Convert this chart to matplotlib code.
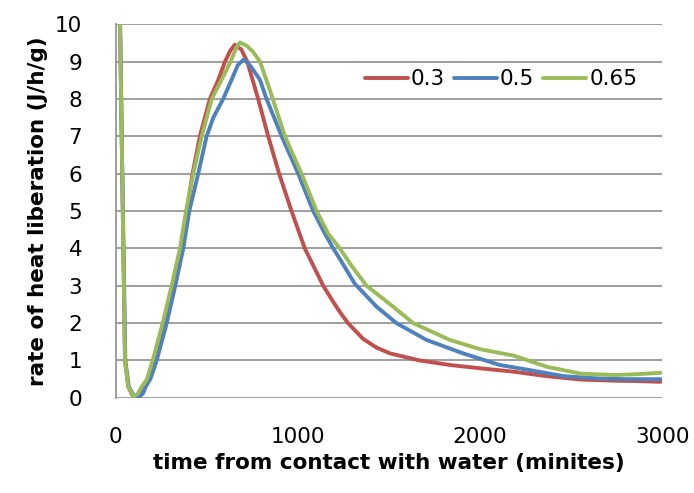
import matplotlib
matplotlib.use("Agg")
import matplotlib.pyplot as plt

# time (minutes) and rate of heat liberation (J/h/g)
t_03 = [10, 24, 38, 51, 69, 90, 112, 140, 172, 210, 263, 312, 358, 390, 422, 462, 517, 563, 600,
        630, 654, 690, 722, 782, 837, 897, 965, 1038, 1139, 1190, 1230, 1275, 1358, 1430, 1505, 1669,
        1834, 2002, 2185, 2368, 2551, 2734, 2850, 2991]
y_03 = [16, 10, 5.3, 1.0, 0.3, 0.08, 0.0, 0.15, 0.42, 1.0, 2.0, 3.0, 4.0, 5.0, 6.0, 7.0, 8.0, 8.51,
        9.0, 9.3, 9.45, 9.32, 9.0, 8.0, 7.0, 6.0, 5.0, 4.0, 3.0, 2.6, 2.3, 2.0, 1.58, 1.35, 1.19, 1.0,
        0.88, 0.79, 0.7, 0.58, 0.49, 0.46, 0.45, 0.43]

t_05 = [10, 24, 38, 53, 72, 100, 124, 150, 165, 190, 225, 280, 327, 371, 404, 453, 499, 536, 590,
        636, 670, 704, 740, 792, 828, 911, 1002, 1084, 1148, 1194, 1230, 1313, 1432, 1541, 1706,
        1907, 2108, 2276, 2459, 2643, 2800, 2991]
y_05 = [16, 10, 5.5, 1.0, 0.3, 0.05, 0.0, 0.12, 0.3, 0.5, 1.0, 2.0, 3.0, 4.0, 5.0, 6.0, 7.0, 7.5,
        8.0, 8.51, 8.9, 9.06, 8.88, 8.51, 8.0, 7.0, 6.0, 5.0, 4.4, 4.0, 3.72, 3.05, 2.44, 2.0, 1.55,
        1.19, 0.88, 0.74, 0.58, 0.52, 0.5, 0.5]

t_065 = [10, 24, 38, 51, 69, 97, 120, 143, 170, 203, 258, 307, 353, 386, 426, 472, 527, 581, 631,
         660, 682, 720, 755, 792, 846, 929, 1020, 1103, 1166, 1230, 1300, 1377, 1523, 1633, 1834,
         2002, 2185, 2368, 2551, 2734, 2850, 2991]
y_065 = [16, 10, 5.3, 1.0, 0.3, 0.03, 0.1, 0.3, 0.48, 1.0, 2.0, 3.0, 4.0, 5.0, 6.0, 7.0, 8.0, 8.51,
         9.0, 9.35, 9.51, 9.42, 9.25, 9.0, 8.24, 7.0, 6.0, 5.0, 4.4, 4.0, 3.5, 3.0, 2.44, 2.0, 1.55,
         1.3, 1.13, 0.83, 0.65, 0.61, 0.63, 0.67]

labels = ['0.3', '0.5', '0.65']
colors = ['#C0504D', '#4F81BD', '#9BBB59']

fig = plt.figure(figsize=(6.94, 4.93), dpi=100)
ax = fig.add_axes([0.1667, 0.193, 0.7875, 0.758])

for tt, yy, lab, c in zip([t_03, t_05, t_065], [y_03, y_05, y_065], labels, colors):
    ax.plot(tt, yy, color=c, lw=2.8, label=lab, solid_capstyle='round', solid_joinstyle='round')

ax.set_xlim(0, 3000)
ax.set_ylim(0, 10)
ax.set_xticks([0, 1000, 2000, 3000])
ax.set_yticks(range(0, 11))
ax.yaxis.grid(True, color='#969696', lw=1.3)
ax.set_axisbelow(True)
for s in ['top', 'right', 'bottom']:
    ax.spines[s].set_visible(False)
ax.spines['left'].set_color('#969696')
ax.spines['left'].set_linewidth(1.3)
ax.tick_params(axis='both', length=0, labelsize=15.5)
ax.tick_params(axis='y', pad=24)
ax.tick_params(axis='x', pad=21)

ax.set_xlabel('time from contact with water (minites)', fontsize=15.5, fontweight='bold', labelpad=4)
ax.set_ylabel('rate of heat liberation (J/h/g)', fontsize=15.5, fontweight='bold', labelpad=5)

ax.legend(loc='center left', bbox_to_anchor=(0.44, 0.852), ncol=3, frameon=False, fontsize=15.5,
          handlelength=2.0, handletextpad=0.15, columnspacing=0.4, borderaxespad=0)

fig.savefig('out.png', dpi=100)
